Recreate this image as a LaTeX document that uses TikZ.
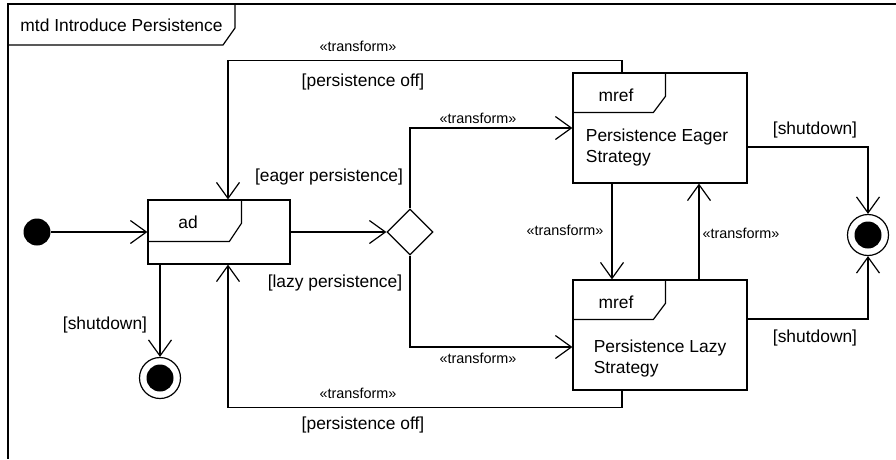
\documentclass[tikz,border=0pt]{standalone}
\usepackage{fontspec}
\setmainfont{Liberation Sans}
\usetikzlibrary{arrows.meta,shapes.geometric,calc}
\tikzset{>={Straight Barb[length=16pt,width=23pt]}}
\tikzset{
  actbox/.style={draw,rectangle,inner sep=0pt},
  initnode/.style={circle,fill=black,inner sep=0pt,minimum size=27pt},
  finalnode/.style={circle,draw,fill=white,inner sep=0pt,minimum size=41pt,
    path picture={\fill[black] (path picture bounding box.center) circle (13.5pt);}},
  decnode/.style={diamond,draw,inner sep=0pt,minimum size=46pt},
  lbl/.style={font=\fontsize{17.4}{21}\selectfont,inner sep=0pt},
  stereo/.style={font=\fontsize{14.4}{17}\selectfont,inner sep=0pt},
}

\begin{document}
\begin{tikzpicture}[x=1pt,y=-1pt,line width=1.2pt]
       \useasboundingbox (0,0) rectangle (896,459);
       % frame and its name tab
       \draw (896,4) -| (8,459);
       \draw (8,45) -- (223,45) -- (235,28) -- (235,4);
       \node[lbl] at (121.5,25) (title) {mtd Introduce Persistence};

       \node[initnode] at (37,232) (start) {};
       \node[actbox,minimum width=142pt,minimum height=64pt] at (219,232) (ad) {};
       \draw ($(ad.north west)+(94,0)$) -- ++(0,24) -- ($(ad.north west)+(82,42)$) -- ($(ad.north west)+(0,42)$);
       \node[lbl] at (188,222) (adname) {ad};
       \node[decnode] at (410,232) (dec) {};

       \node[actbox,minimum width=174pt,minimum height=110pt] at (660,128) (eager) {};
       \draw ($(eager.north west)+(93,0)$) -- ++(0,24) -- ($(eager.north west)+(81,40)$) -- ($(eager.north west)+(0,40)$);
       \node[lbl] at (616,95) (eagerref) {mref};
       \node[lbl,align=left] at (657,147) (eagername) {Persistence Eager\\Strategy};

       \node[actbox,minimum width=174pt,minimum height=110pt] at (660,335) (lazy) {};
       \draw ($(lazy.north west)+(93,0)$) -- ++(0,24) -- ($(lazy.north west)+(81,40)$) -- ($(lazy.north west)+(0,40)$);
       \node[lbl] at (616,302) (lazyref) {mref};
       \node[lbl,align=left] at (660,358) (lazyname) {Persistence Lazy\\Strategy};

       \node[finalnode] at (160,378) (endA) {};
       \node[finalnode] at (868,235) (endB) {};

       % flows
       \draw[->] (start) -- (ad.west);
       \draw[->] (ad.east) -- (dec.west);
       \draw[->] (dec.north) |- (eager.west);
       \draw[->] (dec.south) |- ($(lazy.west)+(0,12)$);
       \draw[->] (endA |- ad.south) -- (endA.north);
       \draw[->] ($(eager.north)+(-38,0)$) -- ++(0,-12) -| ($(ad.north)+(9,0)$);
       \draw[->] ($(lazy.south)+(-38,0)$) -- ++(0,17) -| ($(ad.south)+(9,0)$);
       \draw[->] ($(eager.south)+(-48,0)$) -- ($(lazy.north)+(-48,0)$);
       \draw[->] ($(lazy.north)+(39,0)$) -- ($(eager.south)+(39,0)$);
       \draw[->] ($(eager.east)+(0,19)$) -| (endB.north);
       \draw[->] ($(lazy.east)+(0,-16)$) -| (endB.south);

       % guards and stereotypes
       \node[stereo] at (358,46) (t1) {«transform»};
       \node[lbl] at (363,82) (g1) {[persistence off]};
       \node[lbl] at (329,177) (g2) {[eager persistence]};
       \node[stereo] at (478,118) (t2) {«transform»};
       \node[lbl] at (335,283) (g3) {[lazy persistence]};
       \node[stereo] at (478,358) (t3) {«transform»};
       \node[lbl] at (105,325) (g4) {[shutdown]};
       \node[stereo] at (358,393) (t4) {«transform»};
       \node[lbl] at (363,425) (g5) {[persistence off]};
       \node[stereo] at (565,230) (t5) {«transform»};
       \node[stereo] at (741,233) (t6) {«transform»};
       \node[lbl] at (815,130) (g6) {[shutdown]};
       \node[lbl] at (815,338) (g7) {[shutdown]};
     \end{tikzpicture}
\end{document}
